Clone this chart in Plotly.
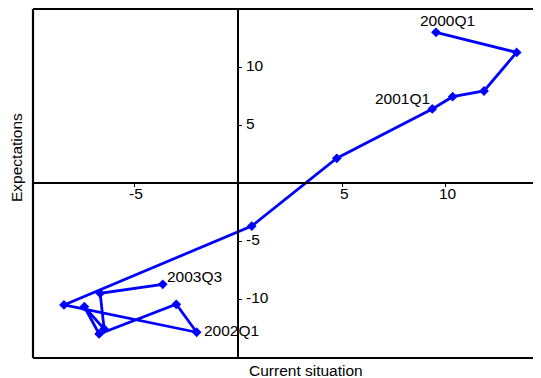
import plotly.graph_objects as go

# Data
quarters = ["2000Q1", "2000Q2", "2000Q3", "2000Q4",
            "2001Q1", "2001Q2", "2001Q3", "2001Q4",
            "2002Q1", "2002Q2", "2002Q3", "2002Q4",
            "2003Q1", "2003Q2", "2003Q3"]
current_situation = [9.52, 13.40, 11.83, 10.32, 9.34, 4.75, 0.66, -8.37,
                     -1.99, -2.97, -6.68, -7.39, -6.44, -6.63, -3.62]
expectations = [13.02, 11.29, 7.96, 7.47, 6.41, 2.16, -3.68, -10.49,
                -12.84, -10.43, -12.99, -10.64, -12.56, -9.48, -8.71]
labelled = ["2000Q1", "2001Q1", "2002Q1", "2003Q3"]
x_ticks = [-5, 5, 10]
y_ticks = [-10, -5, 5, 10]

X_RANGE = [-9.86, 14.57]
Y_RANGE = [-15.06, 15.03]
FONT = "Liberation Sans, Arial, Helvetica, sans-serif"
FS = 15.5

# page body has an 8px margin, so the figure is sized to fit the window
W, H = 533, 370
ML, MT, MB, MR = 25, 1, 20, 0
PW, PH = W - ML - MR, H - MT - MB

fig = go.Figure()
fig.add_trace(go.Scatter(
    x=current_situation, y=expectations, mode="lines+markers",
    line=dict(color="#0000FF", width=2.8),
    marker=dict(symbol="diamond", size=7.5, color="#0000FF"),
    hoverinfo="skip", showlegend=False, cliponaxis=True,
))

# label offsets (px) for the labelled quarters
offsets = {"2000Q1": (12, 11.5), "2001Q1": (-30, 10),
           "2002Q1": (35, 2), "2003Q3": (31.5, 8)}
annotations = []
for q in labelled:
    i = quarters.index(q)
    dx, dy = offsets[q]
    annotations.append(dict(
        x=current_situation[i], y=expectations[i], xref="x", yref="y",
        text=q, showarrow=False, xanchor="center", yanchor="middle",
        xshift=dx, yshift=dy, font=dict(family=FONT, size=FS, color="black")))

# tick labels sit tight against the crossing axis lines
for v in x_ticks:
    annotations.append(dict(
        x=v, y=0, xref="x", yref="y", text=str(v), showarrow=False,
        xanchor="center", yanchor="middle", xshift=2, yshift=-10,
        font=dict(family=FONT, size=FS, color="black")))
for v in y_ticks:
    annotations.append(dict(
        x=0, y=v, xref="x", yref="y", text=str(v), showarrow=False,
        xanchor="left", yanchor="middle", xshift=6, yshift=2,
        font=dict(family=FONT, size=FS, color="black")))

annotations.append(dict(
    x=(306 - 33) / PW, y=0, xref="paper", yref="paper",
    text="Current situation", showarrow=False, xanchor="center",
    yanchor="middle", yshift=-12.5, font=dict(family=FONT, size=FS, color="black")))
annotations.append(dict(
    x=0, y=(358 - 158) / PH, xref="paper", yref="paper",
    text="Expectations", showarrow=False, textangle=-90, xanchor="center",
    yanchor="middle", xshift=-17, font=dict(family=FONT, size=FS, color="black")))

x_pos = (0 - X_RANGE[0]) / (X_RANGE[1] - X_RANGE[0])
y_pos = (0 - Y_RANGE[0]) / (Y_RANGE[1] - Y_RANGE[0])

fig.update_layout(
    width=W, height=H,
    margin=dict(l=ML, r=MR, t=MT, b=MB, pad=0),
    paper_bgcolor="white", plot_bgcolor="white",
    font=dict(family=FONT, size=FS, color="black"),
    xaxis=dict(range=X_RANGE, anchor="free", position=y_pos, side="bottom",
               showgrid=False, zeroline=False, showline=True, linecolor="black",
               linewidth=2, ticks="outside", ticklen=3, tickwidth=1,
               tickcolor="black", tickvals=x_ticks, showticklabels=False),
    yaxis=dict(range=Y_RANGE, anchor="free", position=x_pos, side="right",
               showgrid=False, zeroline=False, showline=True, linecolor="black",
               linewidth=2, ticks="outside", ticklen=3, tickwidth=1,
               tickcolor="black", tickvals=y_ticks, showticklabels=False),
    annotations=annotations,
    shapes=[
        dict(type="line", xref="paper", yref="paper", x0=0, x1=1.01, y0=1, y1=1,
             line=dict(color="black", width=2.2)),
        dict(type="line", xref="paper", yref="paper", x0=0, x1=1.01, y0=0, y1=0,
             line=dict(color="black", width=2.2)),
        dict(type="line", xref="paper", yref="paper", x0=0, x1=0, y0=0, y1=1,
             line=dict(color="black", width=2.2)),
    ],
)

fig.write_html("out.html")
